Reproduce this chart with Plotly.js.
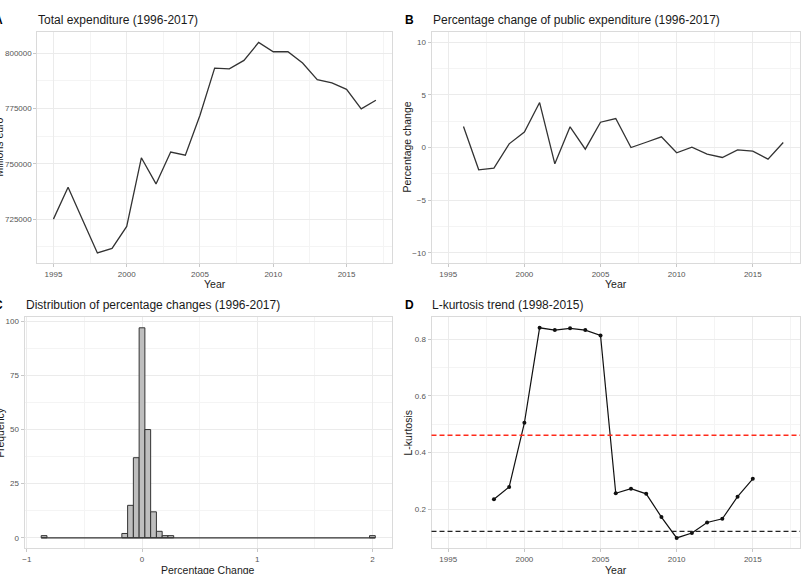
<!DOCTYPE html>
<html>
<head>
<meta charset="utf-8">
<script src="https://cdn.plot.ly/plotly-3.0.1.min.js"></script>
<style>html,body{margin:0;padding:0;background:#fff;}#chart{width:806px;height:574px;}</style>
</head>
<body>
<div id="chart"></div>
<script>
// ---- Data ----
const yearsA = [1995,1996,1997,1998,1999,2000,2001,2002,2003,2004,2005,2006,2007,2008,2009,2010,2011,2012,2013,2014,2015,2016,2017];
const totalExpenditure = [725000,739400,724500,709700,711800,721700,752700,740900,755300,753900,771900,793200,792900,796700,804800,800600,800600,795500,788000,786500,783600,774800,778700];

const yearsB = [1996,1997,1998,1999,2000,2001,2002,2003,2004,2005,2006,2007,2008,2009,2010,2011,2012,2013,2014,2015,2016,2017];
const pctChange = [2.0,-2.12,-1.96,0.35,1.46,4.27,-1.55,1.96,-0.16,2.4,2.75,0.0,0.5,1.01,-0.5,0.03,-0.63,-0.95,-0.22,-0.35,-1.1,0.47];

const binCenters = [-0.85,-0.15,-0.10,-0.05,0.0,0.05,0.10,0.15,0.20,0.25,2.0];
const binCounts  = [1,2,15,37,97,50,12,3,1,1,1];
const binWidth = 0.05;

const yearsD = [1998,1999,2000,2001,2002,2003,2004,2005,2006,2007,2008,2009,2010,2011,2012,2013,2014,2015];
const lKurtosis = [0.236,0.279,0.505,0.840,0.832,0.838,0.832,0.813,0.257,0.273,0.255,0.173,0.0995,0.117,0.154,0.167,0.245,0.308];
const thresholdRed = 0.461;
const thresholdBlack = 0.1226;

const panelTitles = ["Total expenditure (1996-2017)","Percentage change of public expenditure (1996-2017)","Distribution of percentage changes (1996-2017)","L-kurtosis trend (1998-2015)"];
const panelLetters = ["A","B","C","D"];

// ---- Layout helpers ----
const W = 806, H = 574;
const px = v => v / W;
const py = v => 1 - v / H;
const FONT = "Liberation Sans, Arial, Helvetica, sans-serif";

function axisStyle(extra) {
  return Object.assign({
    showgrid: true, gridcolor: '#ebebeb', gridwidth: 1,
    zeroline: false,
    showline: true, mirror: true, linecolor: '#dadada', linewidth: 1,
    ticks: 'outside', ticklen: 3, tickcolor: '#c8c8c8', tickwidth: 1,
    tickfont: {family: FONT, size: 8, color: '#555'},
    fixedrange: true
  }, extra);
}
function minor(dtick) {
  return {showgrid: true, gridcolor: '#f4f4f4', gridwidth: 1, dtick: dtick, ticks: ''};
}

const xYear = {range: [1993.9, 2018.1], tick0: 1995, dtick: 5, minor: minor(2.5)};

const data = [
  {x: yearsA, y: totalExpenditure, type: 'scatter', mode: 'lines', xaxis: 'x', yaxis: 'y',
   line: {color: '#333', width: 1.3}},
  {x: yearsB, y: pctChange, type: 'scatter', mode: 'lines', xaxis: 'x2', yaxis: 'y2',
   line: {color: '#333', width: 1.3}},
  {x: [Math.min(...binCenters) - binWidth/2, Math.max(...binCenters) + binWidth/2], y: [0, 0],
   type: 'scatter', mode: 'lines', xaxis: 'x3', yaxis: 'y3', line: {color: '#333', width: 1.2}},
  {x: binCenters, y: binCounts, type: 'bar', width: binWidth, xaxis: 'x3', yaxis: 'y3',
   marker: {color: '#bebebe', line: {color: '#333', width: 1}}},
  {x: yearsD, y: lKurtosis, type: 'scatter', mode: 'lines+markers', xaxis: 'x4', yaxis: 'y4',
   line: {color: '#111', width: 1.2}, marker: {color: '#111', size: 4}}
];

const annotations = [];
function ann(text, x, y, opts) {
  annotations.push(Object.assign({text: text, x: px(x), y: py(y), xref: 'paper', yref: 'paper',
    showarrow: false, font: {family: FONT, size: 12, color: '#1a1a1a'}, xanchor: 'left', yanchor: 'middle'}, opts || {}));
}
// titles
ann(panelTitles[0], 36, 19.5);
ann(panelTitles[1], 430.5, 19.5);
ann(panelTitles[2], 23.5, 305);
ann(panelTitles[3], 430, 305);
// panel letters
const boldF = {family: FONT, size: 12, color: '#000', weight: 'bold'};
ann('<b>' + panelLetters[0] + '</b>', 4.5, 19.5, {xanchor: 'right', font: boldF});
ann('<b>' + panelLetters[1] + '</b>', 403, 19.5, {font: boldF});
ann('<b>' + panelLetters[2] + '</b>', 4.5, 305, {xanchor: 'right', font: boldF});
ann('<b>' + panelLetters[3] + '</b>', 403, 305, {font: boldF});
// axis titles
const tf = {family: FONT, size: 10.5, color: '#1a1a1a'};
ann('Year', 214.5, 283.5, {xanchor: 'center', font: tf});
ann('Year', 616, 283.5, {xanchor: 'center', font: tf});
ann('Percentage Change', 208, 569.5, {xanchor: 'center', font: tf});
ann('Year', 615.5, 569.5, {xanchor: 'center', font: tf});
ann('Millions euro', -1, 147.5, {xanchor: 'center', textangle: -90, font: tf});
ann('Percentage change', 407, 147.5, {xanchor: 'center', textangle: -90, font: tf});
ann('Frequency', -1, 432.5, {xanchor: 'center', textangle: -90, font: tf});
ann('L-kurtosis', 407, 432.5, {xanchor: 'center', textangle: -90, font: tf});

const layout = {
  width: W, height: H,
  margin: {l: 0, r: 0, t: 0, b: 0},
  paper_bgcolor: '#fff', plot_bgcolor: '#fff',
  showlegend: false,
  font: {family: FONT},
  xaxis:  axisStyle(Object.assign({domain: [px(37.3), px(392)], anchor: 'y'}, xYear)),
  yaxis:  axisStyle({domain: [py(263.3), py(31.7)], anchor: 'x', range: [705045, 809655], tick0: 0, dtick: 25000, tickformat: 'd', minor: minor(12500)}),
  xaxis2: axisStyle(Object.assign({domain: [px(431.5), px(800)], anchor: 'y2'}, xYear)),
  yaxis2: axisStyle({domain: [py(263.3), py(31.7)], anchor: 'x2', range: [-11, 11], tick0: 0, dtick: 5, minor: minor(2.5)}),
  xaxis3: axisStyle({domain: [px(24.5), px(392)], anchor: 'y3', range: [-1.02, 2.17], tick0: 0, dtick: 1, minor: minor(0.5)}),
  yaxis3: axisStyle({domain: [py(548.3), py(317.3)], anchor: 'x3', range: [-4.85, 101.85], tick0: 0, dtick: 25, minor: minor(12.5)}),
  xaxis4: axisStyle(Object.assign({domain: [px(431.5), px(800)], anchor: 'y4'}, xYear)),
  yaxis4: axisStyle({domain: [py(548.3), py(317.3)], anchor: 'x4', range: [0.063, 0.877], tick0: 0, dtick: 0.2, minor: minor(0.1)}),
  bargap: 0,
  shapes: [
    {type: 'line', xref: 'x4 domain', yref: 'y4', x0: 0, x1: 1, y0: thresholdRed, y1: thresholdRed,
     line: {color: '#ff2a1a', width: 1.5, dash: '5px,3px'}},
    {type: 'line', xref: 'x4 domain', yref: 'y4', x0: 0, x1: 1, y0: thresholdBlack, y1: thresholdBlack,
     line: {color: '#222', width: 1.4, dash: '5px,3px'}}
  ],
  annotations: annotations
};

Plotly.newPlot('chart', data, layout, {displayModeBar: false, staticPlot: true});
</script>
</body>
</html>
